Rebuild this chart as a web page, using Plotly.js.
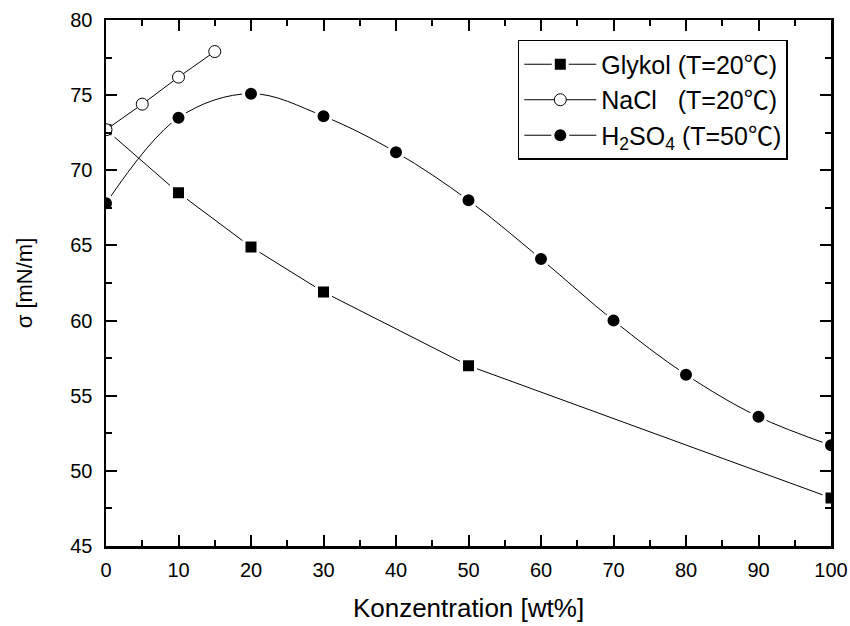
<!DOCTYPE html>
<html>
<head>
<meta charset="utf-8">
<script src="https://cdn.plot.ly/plotly-3.0.1.min.js"></script>
<style>html,body{margin:0;padding:0;background:#fff;}#chart{width:850px;height:626px;}</style>
</head>
<body>
<div id="chart"></div>
<script>
// Data
var glykolX = [0, 10, 20, 30, 50, 100];
var glykolY = [72.7, 68.5, 64.9, 61.9, 57.0, 48.2];

var naclX = [0, 5, 10, 15];
var naclY = [72.7, 74.4, 76.2, 77.9];

var h2so4X = [0, 10, 20, 30, 40, 50, 60, 70, 80, 90, 100];
var h2so4Y = [67.8, 73.5, 75.1, 73.6, 71.2, 68.0, 64.1, 60.0, 56.4, 53.6, 51.7];

var seriesNames = ['Glykol (T=20℃)', 'NaCl   (T=20℃)', 'H<sub>2</sub>SO<sub>4</sub> (T=50℃)'];

var FONT = 'Arial, "Liberation Sans", Helvetica, sans-serif';
var LEGFONT = 'Arial, "Liberation Sans", "Noto Sans CJK JP", sans-serif';

var traces = [
  {
    x: glykolX, y: glykolY, name: seriesNames[0],
    type: 'scatter', mode: 'lines+markers',
    line: {color: '#000', width: 1},
    marker: {symbol: 'square', size: 14, color: '#000', line: {color: '#fff', width: 3}}
  },
  {
    x: naclX, y: naclY, name: seriesNames[1],
    type: 'scatter', mode: 'lines+markers',
    line: {color: '#000', width: 1},
    marker: {symbol: 'circle', size: 12, color: '#fff', line: {color: '#000', width: 1}}
  },
  {
    x: h2so4X, y: h2so4Y, name: seriesNames[2],
    type: 'scatter', mode: 'lines+markers',
    line: {color: '#000', width: 1, shape: 'spline', smoothing: 1},
    marker: {symbol: 'circle', size: 15, color: '#000', line: {color: '#fff', width: 3}}
  }
];

var axisCommon = {
  showline: true, linecolor: '#000', linewidth: 2.5, mirror: 'ticks',
  ticks: 'inside', ticklen: 11, tickwidth: 2, tickcolor: '#000',
  showgrid: false, zeroline: false, layer: 'above traces',
  tickfont: {family: FONT, size: 20, color: '#000'}
};

var layout = {
  width: 850, height: 626,
  margin: {l: 106, r: 19, t: 20, b: 80},
  paper_bgcolor: '#fff', plot_bgcolor: '#fff',
  showlegend: true,
  legend: {
    x: 0.568, y: 0.962, xanchor: 'left', yanchor: 'top',
    bgcolor: '#fff', bordercolor: '#000', borderwidth: 1.5,
    font: {family: LEGFONT, size: 25, color: '#000'},
    itemwidth: 72, tracegroupgap: 0
  },
  xaxis: Object.assign({}, axisCommon, {
    range: [0, 100], dtick: 10, tick0: 0, ticklabelstandoff: 4,
    minor: {ticks: 'inside', ticklen: 6, tickwidth: 2, tickcolor: '#000', dtick: 5, showgrid: false},
    title: {text: 'Konzentration [wt%]', font: {family: FONT, size: 26, color: '#000'}, standoff: 20}
  }),
  yaxis: Object.assign({}, axisCommon, {
    range: [45, 80], dtick: 5, tick0: 45, ticklabelstandoff: 7,
    minor: {ticks: 'inside', ticklen: 6, tickwidth: 2, tickcolor: '#000', dtick: 2.5, showgrid: false},
    title: {text: 'σ [mN/m]', font: {family: FONT, size: 22, color: '#000'}, standoff: 32}
  })
};

Plotly.newPlot('chart', traces, layout, {displayModeBar: false, staticPlot: true});
</script>
</body>
</html>
